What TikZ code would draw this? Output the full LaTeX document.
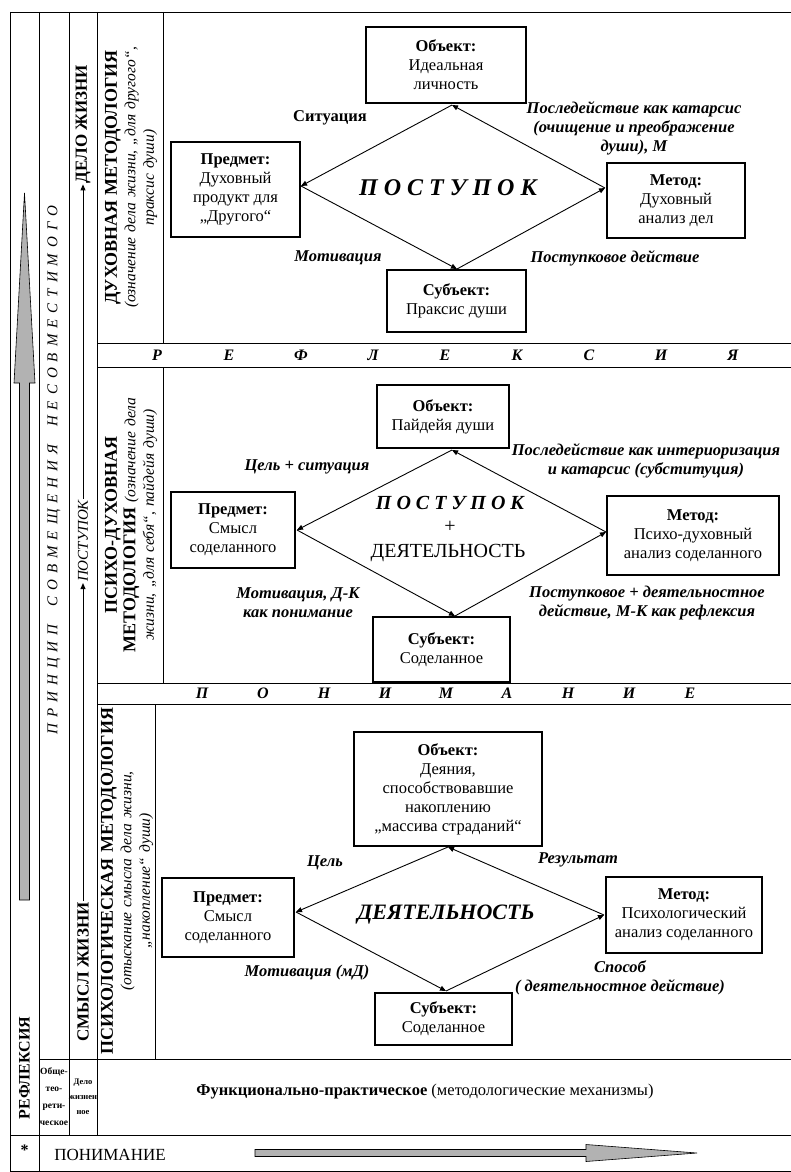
\documentclass[tikz,border=0pt]{standalone}
\usepackage{fontspec}
\setmainfont{Liberation Serif}
\usetikzlibrary{arrows.meta,positioning,calc}

\begin{document}
\begin{tikzpicture}[x=1pt,y=-1pt]
    % Define styles
    \tikzstyle{gridline}=[line width=0.9pt]
    \tikzstyle{partbox}=[draw,line width=1.1pt,align=center,inner sep=1pt,font=\fontsize{16.5}{19}\selectfont]
    \tikzstyle{edgelabel}=[align=center,inner sep=1pt,font=\fontsize{16.5}{19}\selectfont\bfseries\itshape]
    \tikzstyle{link}=[line width=0.9pt,-{Triangle[length=6pt,width=5pt]}]
    \tikzstyle{vtext}=[rotate=90,align=center,inner sep=1pt]
    \tikzstyle{bandletter}=[font=\fontsize{16}{18}\selectfont\bfseries\itshape]
    \tikzstyle{blockarrow}=[draw=black,fill=gray!60,line width=0.6pt]

    \useasboundingbox (0,0) rectangle (791,1172);
    \fill[white] (0,0) rectangle (791,1172);

    % Table grid
    \draw[gridline] (10,12) -- (791,12);
    \draw[gridline] (10,12) -- (10,1171) -- (791,1171);
    \draw[gridline] (39,12) -- (39,1171);
    \draw[gridline] (69,12) -- (69,1135);
    \draw[gridline] (97,12) -- (97,1135);
    \foreach \y in {343,367,683,704} {
        \draw[gridline] (97,\y) -- (791,\y);
    }
    \draw[gridline] (39,1059) -- (791,1059);
    \draw[gridline] (10,1135) -- (791,1135);
    \draw[gridline] (163,12) -- (163,343);
    \draw[gridline] (163,367) -- (163,683);
    \draw[gridline] (155,704) -- (155,1059);

    % Bands
    \foreach \c [count=\i] in {Р,Е,Ф,Л,Е,К,С,И,Я} {
        \node[bandletter] (refl\i) at (85+\i*72,355) {\c};
    }
    \foreach \c [count=\i] in {П,О,Н,И,М,А,Н,И,Е} {
        \node[bandletter] (und\i) at (141+\i*61,693.5) {\c};
    }

    % Spiritual level
    \node[partbox,minimum width=160,minimum height=76] (objT) at (446,65) {\textbf{Объект:}\\Идеальная\\личность};
    \node[partbox,minimum width=129,minimum height=95] (predT) at (235.5,189.5) {\textbf{Предмет:}\\Духовный\\продукт для\\„Другого“};
    \node[partbox,minimum width=138,minimum height=75] (metT) at (676,200.5) {\textbf{Метод:}\\Духовный\\анализ дел};
    \node[partbox,minimum width=139,minimum height=62] (subT) at (456.5,301) {\textbf{Субъект:}\\Праксис души};
    \coordinate (tT) at (452,105);
    \coordinate (lT) at (301,186);
    \coordinate (rT) at (605,188);
    \coordinate (bT) at (457,269);
    \draw[link] (rT) -- (tT);
    \draw[link] (tT) -- (lT);
    \draw[link] (lT) -- (bT);
    \draw[link] (bT) -- (rT);
    \node[font=\fontsize{24}{28}\selectfont\bfseries\itshape] (actT) at (448,188) {\addfontfeature{LetterSpace=25}ПОСТУПОК};
    \node[font=\fontsize{16.5}{19}\selectfont\bfseries] (sitT) at (330,118) {Ситуация};
    \node[edgelabel] (aftT) at (634,128) {Последействие как катарсис\\(очищение и преображение\\души), М};
    \node[edgelabel] (motT) at (338,258) {Мотивация};
    \node[edgelabel] (deedT) at (615,258) {Поступковое действие};

    % Psycho-spiritual level
    \node[partbox,minimum width=132,minimum height=63] (objM) at (443,416.5) {\textbf{Объект:}\\Пайдейя души};
    \node[partbox,minimum width=124,minimum height=76] (predM) at (233,530) {\textbf{Предмет:}\\Смысл\\соделанного};
    \node[partbox,minimum width=172,minimum height=79] (metM) at (693,535.5) {\textbf{Метод:}\\Психо-духовный\\анализ соделанного};
    \node[partbox,minimum width=137,minimum height=65] (subM) at (441.5,649.5) {\textbf{Субъект:}\\Соделанное};
    \coordinate (tM) at (452,450);
    \coordinate (lM) at (297,530);
    \coordinate (rM) at (606,532);
    \coordinate (bM) at (455,616);
    \draw[link] (rM) -- (tM);
    \draw[link] (tM) -- (lM);
    \draw[link] (lM) -- (bM);
    \draw[link] (bM) -- (rM);
    \node[font=\fontsize{20}{24}\selectfont\bfseries\itshape] (actM) at (450,503) {\addfontfeature{LetterSpace=25}ПОСТУПОК};
    \node[font=\fontsize{20}{24}\selectfont] (plusM) at (450,527) {+};
    \node[font=\fontsize{20}{24}\selectfont] (workM) at (448,553) {ДЕЯТЕЛЬНОСТЬ};
    \node[edgelabel] (goalM) at (307,467) {Цель + ситуация};
    \node[edgelabel] (aftM) at (646,461) {Последействие как интериоризация\\и катарсис (субституция)};
    \node[edgelabel] (motM) at (298,603) {Мотивация, Д-К\\как понимание};
    \node[edgelabel] (deedM) at (647,603) {Поступковое + деятельностное\\действие, М-К как рефлексия};

    % Psychological level
    \node[partbox,minimum width=188,minimum height=114] (objB) at (448,789) {\textbf{Объект:}\\Деяния,\\способствовавшие\\накоплению\\„массива страданий“};
    \node[partbox,minimum width=132,minimum height=79] (predB) at (228,917.5) {\textbf{Предмет:}\\Смысл\\соделанного};
    \node[partbox,minimum width=156,minimum height=76] (metB) at (684,915) {\textbf{Метод:}\\Психологический\\анализ соделанного};
    \node[partbox,minimum width=137,minimum height=52] (subB) at (443.5,1019) {\textbf{Субъект:}\\Соделанное};
    \coordinate (tB) at (448,847);
    \coordinate (lB) at (296,912);
    \coordinate (rB) at (604,915);
    \coordinate (bB) at (446,991);
    \draw[link] (rB) -- (tB);
    \draw[link] (tB) -- (lB);
    \draw[link] (lB) -- (bB);
    \draw[link] (bB) -- (rB);
    \node[font=\fontsize{22}{26}\selectfont\bfseries\itshape] (workB) at (446,915) {ДЕЯТЕЛЬНОСТЬ};
    \node[edgelabel] (goalB) at (325,863) {Цель};
    \node[edgelabel] (resB) at (578,860) {Результат};
    \node[edgelabel] (motB) at (307,973) {Мотивация (мД)};
    \node[edgelabel] (wayB) at (620,978) {Способ\\( деятельностное действие)};

    % Left columns
    \draw[blockarrow] (19.5,900) -- (19.5,383) -- (14,383) -- (24.5,193) -- (35,383) -- (29.5,383) -- (29.5,900) -- cycle;
    \node[vtext,font=\fontsize{16}{18}\selectfont\bfseries] (reflA) at (24.5,1068) {РЕФЛЕКСИЯ};
    \node[vtext,font=\fontsize{15}{18}\selectfont\itshape] (princB) at (54,470) {\addfontfeature{LetterSpace=40}ПРИНЦИП\hspace{8pt} СОВМЕЩЕНИЯ\hspace{8pt} НЕСОВМЕСТИМОГО};
    \node[vtext,font=\fontsize{17}{20}\selectfont\bfseries] (deloC) at (83,124) {ДЕЛО ЖИЗНИ};
    \node[vtext,font=\fontsize{15}{18}\selectfont\itshape] (postC) at (83,541) {ПОСТУПОК};
    \node[vtext,font=\fontsize{17}{20}\selectfont\bfseries] (smyslC) at (83,972) {СМЫСЛ ЖИЗНИ};
    \draw[link] (postC.east) -- (deloC.west);
    \draw[link] (smyslC.east) -- (postC.west);

    % Level titles
    \node[vtext,text width=326,font=\fontsize{15.5}{18.5}\selectfont] (titleT) at (131,177.5) {{\fontsize{18}{18.5}\selectfont\bfseries ДУХОВНАЯ МЕТОДОЛОГИЯ}\\{\itshape (означение дела жизни, „для другого“,\\праксис души)}};
    \node[vtext,text width=312,font=\fontsize{15.5}{18.5}\selectfont] (titleM) at (131,525) {{\fontsize{18}{18.5}\selectfont\bfseries ПСИХО-ДУХОВНАЯ}\\{\fontsize{18}{18.5}\selectfont\bfseries МЕТОДОЛОГИЯ} {\itshape(означение дела}\\{\itshape жизни, „для себя“, пайдейя души)}};
    \node[vtext,text width=354,font=\fontsize{15.5}{18.5}\selectfont] (titleB) at (127,881) {{\fontsize{18}{18.5}\selectfont\bfseries ПСИХОЛОГИЧЕСКАЯ МЕТОДОЛОГИЯ}\\{\itshape (отыскание смысла дела жизни,\\„накопление“ души)}};

    % Bottom rows
    \node[align=center,inner sep=0pt,font=\fontsize{9.5}{17}\selectfont\bfseries] (theoRow) at (54,1097) {Обще-\\тео-\\рети-\\ческое};
    \node[align=center,inner sep=0pt,font=\fontsize{8.5}{15}\selectfont\bfseries] (lifeRow) at (83,1097) {Дело\\жизнен\\ное};
    \node[font=\fontsize{16.5}{19}\selectfont] (funcRow) at (425,1092) {\textbf{Функционально-практическое} (методологические механизмы)};
    \node[font=\fontsize{16}{18}\selectfont\bfseries] (star) at (24.5,1150) {*};
    \node[font=\fontsize{17}{20}\selectfont] (undRow) at (110,1155) {ПОНИМАНИЕ};
    \draw[blockarrow] (255,1149.5) -- (586,1149.5) -- (586,1144.5) -- (697,1153) -- (586,1161.5) -- (586,1156.5) -- (255,1156.5) -- cycle;
\end{tikzpicture}
\end{document}
